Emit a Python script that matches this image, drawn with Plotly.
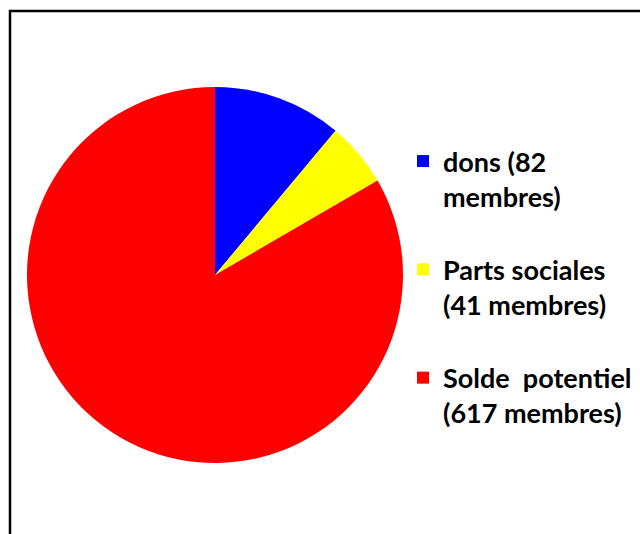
import plotly.graph_objects as go

labels = ["dons (82<br>membres)<br> ", "Parts sociales<br>(41 membres)<br> ", "Solde &nbsp;poten&#8204;tiel<br>(617 membres)<br> "]
values = [82, 41, 617]
colors = ["#0000FF", "#FFFF00", "#FF0000"]

W, H = 640, 534
cx, cy, r = 215, 275, 188

fig = go.Figure(go.Pie(
    labels=labels,
    values=values,
    marker=dict(colors=colors, line=dict(width=0)),
    sort=False,
    direction="clockwise",
    rotation=0,
    textinfo="none",
    hoverinfo="value",
    domain=dict(x=[(cx - r) / W, (cx + r) / W], y=[(H - cy - r) / H, (H - cy + r) / H]),
))

fig.update_layout(
    width=W, height=H,
    margin=dict(l=0, r=0, t=0, b=0),
    paper_bgcolor="white",
    showlegend=True,
    legend=dict(
        x=403 / W, xanchor="left",
        y=(H - 137) / H, yanchor="top",
        valign="top",
        font=dict(family="Lato", size=27, color="black", weight="bold"),
        tracegroupgap=0,
        bgcolor="rgba(0,0,0,0)",
    ),
    shapes=[dict(type="rect", xref="paper", yref="paper",
                 x0=10 / W, x1=1.1, y0=-0.1, y1=(H - 11) / H,
                 line=dict(color="black", width=2.5))],
)

fig.write_html("out.html", config={"displayModeBar": False},
               post_script="document.body.style.margin='0';document.body.style.overflow='hidden';")
